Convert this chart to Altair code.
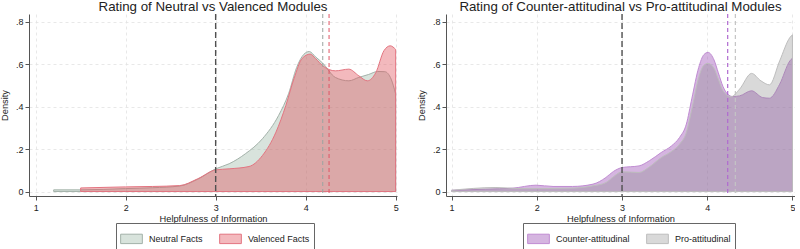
import altair as alt
import pandas as pd

FONT = "Liberation Sans"

# ---------------- data ----------------
x_ticks = [1, 2, 3, 4, 5]
y_ticks = [0, 0.2, 0.4, 0.6, 0.8]

left_series = ["Neutral Facts", "Valenced Facts"]
neutral_x = [1.2, 1.5, 2.0, 2.3, 2.6, 2.8, 3.0, 3.15, 3.33, 3.52, 3.7, 3.81, 3.9, 3.98,
             4.04, 4.11, 4.19, 4.33, 4.48, 4.59, 4.7, 4.8, 4.88, 4.95, 5.0]
neutral_y = [0.008, 0.008, 0.014, 0.018, 0.026, 0.058, 0.107, 0.131, 0.178, 0.249, 0.359,
             0.461, 0.585, 0.647, 0.66, 0.635, 0.605, 0.538, 0.522, 0.538, 0.552, 0.566,
             0.565, 0.53, 0.46]
valenced_x = [1.5, 2.0, 2.3, 2.6, 2.8, 3.0, 3.15, 3.37, 3.52, 3.67, 3.78, 3.87, 3.96, 4.05,
              4.11, 4.19, 4.33, 4.48, 4.59, 4.685, 4.78, 4.87, 4.94, 5.0]
valenced_y = [0.017, 0.022, 0.024, 0.028, 0.06, 0.102, 0.107, 0.118, 0.17, 0.28, 0.406,
              0.532, 0.627, 0.648, 0.627, 0.593, 0.569, 0.577, 0.546, 0.522, 0.561, 0.664,
              0.687, 0.67]
left_means = [4.19, 4.26]

right_series = ["Counter-attitudinal", "Pro-attitudinal"]
counter_x = [1.0, 1.4, 1.72, 1.99, 2.19, 2.42, 2.66, 2.81, 2.9, 3.0, 3.2, 3.32, 3.46, 3.58,
             3.675, 3.755, 3.82, 3.9, 3.96, 4.01, 4.08, 4.13, 4.185, 4.24, 4.3, 4.38, 4.52,
             4.65, 4.73, 4.85, 4.97, 5.0]
counter_y = [0.006, 0.011, 0.016, 0.03, 0.024, 0.024, 0.035, 0.066, 0.095, 0.113, 0.121,
             0.145, 0.184, 0.215, 0.255, 0.318, 0.44, 0.585, 0.645, 0.656, 0.62, 0.56,
             0.495, 0.459, 0.448, 0.451, 0.475, 0.443, 0.44, 0.506, 0.616, 0.629]
pro_x = [1.0, 1.52, 1.8, 1.99, 2.42, 2.66, 2.81, 2.9, 3.0, 3.2, 3.32, 3.46, 3.58, 3.675,
         3.755, 3.82, 3.9, 3.96, 4.01, 4.08, 4.13, 4.185, 4.28, 4.38, 4.52, 4.63, 4.73,
         4.85, 4.97, 5.0]
pro_y = [0.006, 0.019, 0.014, 0.014, 0.016, 0.027, 0.042, 0.07, 0.093, 0.09, 0.116, 0.16,
         0.189, 0.223, 0.278, 0.39, 0.537, 0.595, 0.604, 0.58, 0.53, 0.475, 0.447, 0.483,
         0.557, 0.522, 0.503, 0.616, 0.726, 0.739]
right_means = [4.24, 4.33]

ref_line = [3]

# ---------------- helpers ----------------
Y_DOMAIN = [-0.021, 0.837]


def xenc(domain):
    return alt.X(
        "x:Q",
        scale=alt.Scale(domain=domain, nice=False, zero=False),
        axis=alt.Axis(values=x_ticks, format="d", title="Helpfulness of Information",
                      labelPadding=3, titlePadding=2),
    )


def yenc():
    return alt.Y(
        "y:Q",
        scale=alt.Scale(domain=Y_DOMAIN, nice=False, zero=False),
        axis=alt.Axis(values=y_ticks, title="Density", labelPadding=2, titlePadding=6,
                      labelExpr="datum.value == 0 ? '0' : '.' + format(datum.value * 10, '.0f')"),
    )


def make_legend(lx, ly):
    return alt.Legend(
        title=None, orient="none", legendX=lx, legendY=ly, direction="horizontal",
        symbolType="M-1,-0.433H1V0.433H-1Z", symbolSize=471, symbolStrokeWidth=1,
        labelFont=FONT, labelFontSize=9, labelColor="#222", labelOffset=6,
        columnPadding=14, padding=4, strokeColor="#666", fillColor="white",
    )


def area(xs, ys, name, field, series, fills, strokes, xdom, legend):
    df = pd.DataFrame({"x": xs, "y": ys, field: [name] * len(xs)})
    return alt.Chart(df).mark_area(interpolate="monotone", strokeWidth=1).encode(
        x=xenc(xdom),
        y=yenc(),
        fill=alt.Fill(f"{field}:N", scale=alt.Scale(domain=series, range=fills), legend=legend),
        stroke=alt.Stroke(f"{field}:N", scale=alt.Scale(domain=series, range=strokes), legend=legend),
    )


def vline(val, color, dash, width, xdom):
    return alt.Chart(pd.DataFrame({"x": [val]})).mark_rule(
        color=color, strokeDash=dash, strokeWidth=width
    ).encode(x=xenc(xdom))


def title(text):
    return alt.TitleParams(text=text, font=FONT, fontSize=13.3, fontWeight="normal",
                           color="#222", anchor="middle", frame="group", offset=0)


# ---------------- left panel ----------------
LX = [0.926, 5.015]
l_fills = ["rgba(143,174,156,0.35)", "rgba(224,80,90,0.40)"]
l_strokes = ["#a3b1a9", "#e37480"]
leg_l = make_legend(87, 209)
left = alt.layer(
    area(neutral_x, neutral_y, left_series[0], "seriesL", left_series, l_fills, l_strokes, LX, leg_l),
    area(valenced_x, valenced_y, left_series[1], "seriesL", left_series, l_fills, l_strokes, LX, leg_l),
    vline(ref_line[0], "#505050", [6, 3], 1.4, LX),
    vline(left_means[0], "#9aa5a0", [4, 3], 1.0, LX),
    vline(left_means[1], "#e05565", [4, 3], 1.0, LX),
).properties(width=368, height=182, title=title("Rating of Neutral vs Valenced Modules"))

# ---------------- right panel ----------------
RX = [0.934, 5.03]
r_fills = ["rgba(154,79,181,0.42)", "rgba(130,130,130,0.30)"]
r_strokes = ["#c08cd2", "#bdbdbd"]
leg_r = make_legend(77, 209)
right = alt.layer(
    area(counter_x, counter_y, right_series[0], "seriesR", right_series, r_fills, r_strokes, RX, leg_r),
    area(pro_x, pro_y, right_series[1], "seriesR", right_series, r_fills, r_strokes, RX, leg_r),
    vline(ref_line[0], "#505050", [6, 3], 1.4, RX),
    vline(right_means[0], "#b06ad0", [4, 3], 1.2, RX),
    vline(right_means[1], "#c4c4c4", [4, 3], 1.2, RX),
).properties(width=349, height=182,
             title=title("Rating of Counter-attitudinal vs Pro-attitudinal Modules"))

chart = (
    alt.hconcat(left, right, spacing=18)
    .resolve_scale(x="independent", y="independent", fill="independent", stroke="independent")
    .resolve_legend(fill="independent", stroke="independent")
    .properties(padding=0, background="white")
    .configure_view(strokeWidth=0)
    .configure_axis(
        labelFont=FONT, labelFontSize=9, labelColor="#222",
        titleFont=FONT, titleFontSize=9.3, titleFontWeight="normal", titleColor="#222",
        domainColor="#555", domainWidth=1, tickColor="#555", tickSize=4,
        grid=True, gridColor="#e2e2e2", gridDash=[3, 3], gridWidth=0.8,
    )
)

chart.save("out.html", embed_options={"renderer": "svg", "actions": False})
